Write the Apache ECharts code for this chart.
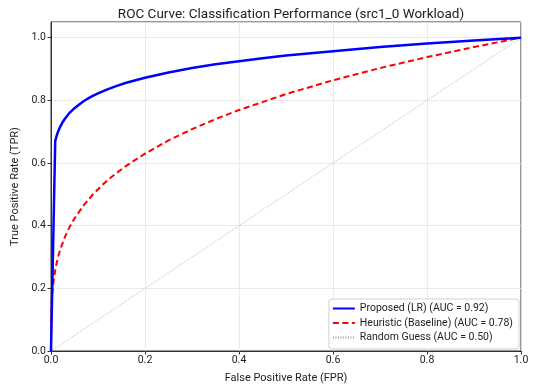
<!DOCTYPE html>
<html>
<head>
<meta charset="utf-8">
<script src="https://cdn.jsdelivr.net/npm/echarts@6/dist/echarts.min.js"></script>
<style>html,body{margin:0;padding:0;background:#fff}#c{width:534px;height:389px}</style>
</head>
<body>
<div id="c"></div>
<script>
const titleText = 'ROC Curve: Classification Performance (src1_0 Workload)';
const xTitle = 'False Positive Rate (FPR)';
const yTitle = 'True Positive Rate (TPR)';
const seriesNames = ['Proposed (LR) (AUC = 0.92)', 'Heuristic (Baseline) (AUC = 0.78)', 'Random Guess (AUC = 0.50)'];

const proposedFpr = [0, 0.009, 0.012, 0.015, 0.02, 0.025, 0.03, 0.04, 0.05, 0.06, 0.07, 0.08, 0.09, 0.1, 0.12, 0.14, 0.16, 0.18, 0.2, 0.25, 0.3, 0.35, 0.4, 0.45, 0.5, 0.6, 0.7, 0.8, 0.9, 1.0];
const proposedTpr = [0, 0.67, 0.687, 0.700, 0.717, 0.731, 0.742, 0.761, 0.775, 0.787, 0.798, 0.807, 0.815, 0.822, 0.835, 0.846, 0.856, 0.864, 0.872, 0.889, 0.903, 0.915, 0.925, 0.934, 0.943, 0.957, 0.970, 0.981, 0.991, 1.0];

const heuristicFpr = [0, 0.0003, 0.001, 0.002, 0.0035, 0.006, 0.01, 0.015, 0.02, 0.03, 0.04, 0.05, 0.07, 0.09, 0.11, 0.13, 0.16, 0.2, 0.25, 0.3, 0.35, 0.4, 0.5, 0.6, 0.7, 0.8, 0.9, 1.0];
const heuristicTpr = [0, 0.097, 0.138, 0.168, 0.197, 0.230, 0.267, 0.300, 0.325, 0.366, 0.397, 0.423, 0.466, 0.501, 0.531, 0.557, 0.591, 0.630, 0.672, 0.708, 0.740, 0.769, 0.820, 0.864, 0.903, 0.938, 0.970, 1.0];

const randomFpr = [0, 1];
const randomTpr = [0, 1];

const zip = (a, b) => a.map((v, i) => [v, b[i]]);
const FONT = 'Roboto';

const chart = echarts.init(document.getElementById('c'), null, {renderer: 'canvas'});
chart.setOption({
  animation: false,
  backgroundColor: '#fff',
  textStyle: {fontFamily: FONT},
  title: {
    text: titleText, left: 286, textAlign: 'center', top: 3,
    textStyle: {fontFamily: FONT, fontSize: 13.5, fontWeight: 'normal', color: '#222'}
  },
  grid: {left: 51, right: 13, top: 22, bottom: 34, show: true, borderColor: '#333', borderWidth: 1, backgroundColor: 'transparent'},
  legend: {
    orient: 'vertical', right: 15, bottom: 40,
    backgroundColor: '#fff', borderColor: '#d0d0d0', borderWidth: 1, borderRadius: 3,
    padding: [4, 6, 6, 3], itemGap: 3.5, itemWidth: 22, itemHeight: 10,
    itemStyle: {opacity: 0},
    textStyle: {fontFamily: FONT, fontSize: 10.5, color: '#222'},
    data: seriesNames
  },
  xAxis: {
    type: 'value', min: 0, max: 1, interval: 0.2,
    name: xTitle, nameLocation: 'middle', nameGap: 22,
    nameTextStyle: {fontFamily: FONT, fontSize: 11, color: '#222'},
    axisLine: {show: true, lineStyle: {color: '#333'}},
    axisTick: {show: true, length: 3.5, lineStyle: {color: '#333'}},
    axisLabel: {fontFamily: FONT, fontSize: 10.5, color: '#222', margin: 4, formatter: v => v.toFixed(1)},
    splitLine: {show: true, lineStyle: {color: '#e6e6e6', width: 0.8}}
  },
  yAxis: {
    type: 'value', min: 0, max: 1.05, interval: 0.2,
    name: yTitle, nameLocation: 'middle', nameGap: 26,
    nameTextStyle: {fontFamily: FONT, fontSize: 11, color: '#222'},
    axisLine: {show: true, lineStyle: {color: '#333'}},
    axisTick: {show: true, length: 3.5, lineStyle: {color: '#333'}},
    axisLabel: {fontFamily: FONT, fontSize: 10.5, color: '#222', margin: 5, showMaxLabel: false, formatter: v => v.toFixed(1)},
    splitLine: {show: true, lineStyle: {color: '#e6e6e6', width: 0.8}}
  },
  series: [
    {name: seriesNames[0], type: 'line', data: zip(proposedFpr, proposedTpr), symbol: 'none', z: 4,
     lineStyle: {color: '#0000ff', width: 2.5}, itemStyle: {color: '#0000ff'}},
    {name: seriesNames[1], type: 'line', data: zip(heuristicFpr, heuristicTpr), symbol: 'none', z: 3,
     lineStyle: {color: '#ff0000', width: 2, type: [6, 3.5]}, itemStyle: {color: '#ff0000'}},
    {name: seriesNames[2], type: 'line', data: zip(randomFpr, randomTpr), symbol: 'none', z: 2,
     lineStyle: {color: '#a0a0a0', width: 0.8, type: [1, 1.5]}, itemStyle: {color: '#a0a0a0'}}
  ]
});
</script>
</body>
</html>
